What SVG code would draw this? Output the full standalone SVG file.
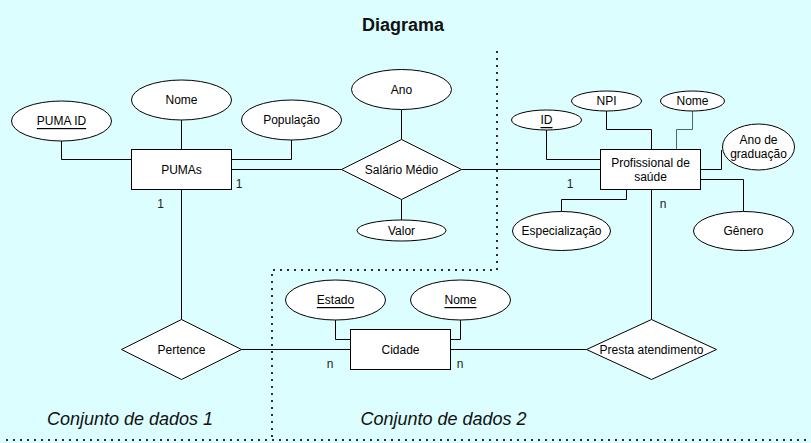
<svg xmlns="http://www.w3.org/2000/svg" width="811" height="443" viewBox="0 0 811 443">
<style>
.bg{fill:#dcfeff}
.shape{fill:#ffffff;stroke:#000000;stroke-width:1}
.ln{fill:none;stroke:#000000;stroke-width:1}
.grey{stroke:#4f6666}
.dot{fill:none;stroke:#000000;stroke-width:2.2;stroke-linecap:round;stroke-dasharray:0 7}
.t{font-family:"Liberation Sans",Arial,sans-serif;font-size:12px;fill:#000000;text-anchor:middle;dominant-baseline:central}
.u{text-decoration:underline}
.card{font-family:"Liberation Sans",Arial,sans-serif;font-size:12px;fill:#222222;text-anchor:middle;dominant-baseline:central}
.title{font-family:"Liberation Sans",Arial,sans-serif;font-size:18px;font-weight:bold;fill:#111111;text-anchor:middle}
.set{font-family:"Liberation Sans",Arial,sans-serif;font-size:18px;font-style:italic;fill:#111111;text-anchor:middle}
</style>
<rect class="bg" x="0" y="0" width="811" height="443"/>
<text class="title" x="403" y="31">Diagrama</text>
<g id="boundaries">
<path class="dot" d="M497,52 V270 H272 V443"/>
<path class="dot" d="M7,440 H811"/>
</g>
<text class="set" x="130" y="425">Conjunto de dados 1</text>
<text class="set" x="443.5" y="425">Conjunto de dados 2</text>
<g id="connectors">
<path class="ln" d="M61.5,141 V159.5 H131.5"/>
<path class="ln" d="M181.5,120 V149.5"/>
<path class="ln" d="M291.5,140 V159.5 H231.5"/>
<path class="ln" d="M231.5,169.5 H341.5"/>
<path class="ln" d="M401.5,109.5 V139.5"/>
<path class="ln" d="M401.5,199.5 V220"/>
<path class="ln" d="M461.5,169.5 H600.5"/>
<path class="ln" d="M546.5,130 V159.5 H600.5"/>
<path class="ln" d="M606.5,111 V129.5 H651.5 V149.5"/>
<path class="ln grey" d="M692.5,111 V129.5 H676.5 V149.5"/>
<path class="ln" d="M700.5,169.5 H721.5 V150"/>
<path class="ln" d="M700.5,179.5 H743.5 V211.5"/>
<path class="ln" d="M626.5,189.5 V199.5 H561.5 V211.5"/>
<path class="ln" d="M651.5,189.5 V319.5"/>
<path class="ln" d="M181.5,189.5 V319.5"/>
<path class="ln" d="M241.5,349.5 H350.5"/>
<path class="ln" d="M450.5,349.5 H586.5"/>
<path class="ln" d="M335.5,320 V339.5 H350.5"/>
<path class="ln" d="M460.5,320 V339.5 H450.5"/>
<text class="card" x="239" y="184">1</text>
<text class="card" x="160.5" y="204">1</text>
<text class="card" x="570" y="184">1</text>
<text class="card" x="663" y="204">n</text>
<text class="card" x="330" y="364">n</text>
<text class="card" x="460" y="364">n</text>
</g>
<g id="pumas"><rect class="shape" x="131.5" y="149.5" width="100" height="40"/><text class="t" x="181.5" y="169.5">PUMAs</text></g>
<g id="puma-id"><ellipse class="shape" cx="61.5" cy="121" rx="50" ry="20"/><text class="t u" x="61.5" y="121">PUMA ID</text></g>
<g id="puma-nome"><ellipse class="shape" cx="181.5" cy="100" rx="50" ry="20"/><text class="t" x="181.5" y="100">Nome</text></g>
<g id="populacao"><ellipse class="shape" cx="291.5" cy="120" rx="50" ry="20"/><text class="t" x="291.5" y="120">População</text></g>
<g id="ano"><ellipse class="shape" cx="401.5" cy="89.5" rx="50" ry="20"/><text class="t" x="401.5" y="89.5">Ano</text></g>
<g id="salario-medio"><polygon class="shape" points="401.5,139.5 461.5,169.5 401.5,199.5 341.5,169.5"/><text class="t" x="401.5" y="169.5">Salário Médio</text></g>
<g id="valor"><ellipse class="shape" cx="401.5" cy="230.5" rx="44.5" ry="10.5"/><text class="t" x="401.5" y="230.5">Valor</text></g>
<g id="profissional"><rect class="shape" x="600.5" y="149.5" width="100" height="40"/><text class="t" x="650.5" y="163">Profissional de</text><text class="t" x="650.5" y="177">saúde</text></g>
<g id="prof-id"><ellipse class="shape" cx="546.5" cy="120" rx="35" ry="10"/><text class="t u" x="546.5" y="120">ID</text></g>
<g id="npi"><ellipse class="shape" cx="606.5" cy="101" rx="35" ry="10"/><text class="t" x="606.5" y="101">NPI</text></g>
<g id="prof-nome"><ellipse class="shape" cx="692.5" cy="101" rx="32" ry="10"/><text class="t" x="692.5" y="101">Nome</text></g>
<g id="ano-graduacao"><ellipse class="shape" cx="758.5" cy="147" rx="36" ry="23"/><text class="t" x="758.5" y="140">Ano de</text><text class="t" x="758.5" y="154">graduação</text></g>
<g id="especializacao"><ellipse class="shape" cx="561.5" cy="231" rx="49" ry="19.5"/><text class="t" x="561.5" y="231">Especialização</text></g>
<g id="genero"><ellipse class="shape" cx="743.5" cy="231" rx="50" ry="19.5"/><text class="t" x="743.5" y="231">Gênero</text></g>
<g id="pertence"><polygon class="shape" points="181.5,319.5 241.5,349.5 181.5,379.5 121.5,349.5"/><text class="t" x="181.5" y="349.5">Pertence</text></g>
<g id="cidade"><rect class="shape" x="350.5" y="329.5" width="100" height="40"/><text class="t" x="400.5" y="349.5">Cidade</text></g>
<g id="estado"><ellipse class="shape" cx="335.5" cy="300" rx="50" ry="20"/><text class="t u" x="335.5" y="300">Estado</text></g>
<g id="cidade-nome"><ellipse class="shape" cx="460.5" cy="300" rx="50" ry="20"/><text class="t u" x="460.5" y="300">Nome</text></g>
<g id="presta-atendimento"><polygon class="shape" points="651.5,319.5 716.5,349.5 651.5,379.5 586.5,349.5"/><text class="t" x="651.5" y="349.5">Presta atendimento</text></g>
</svg>
